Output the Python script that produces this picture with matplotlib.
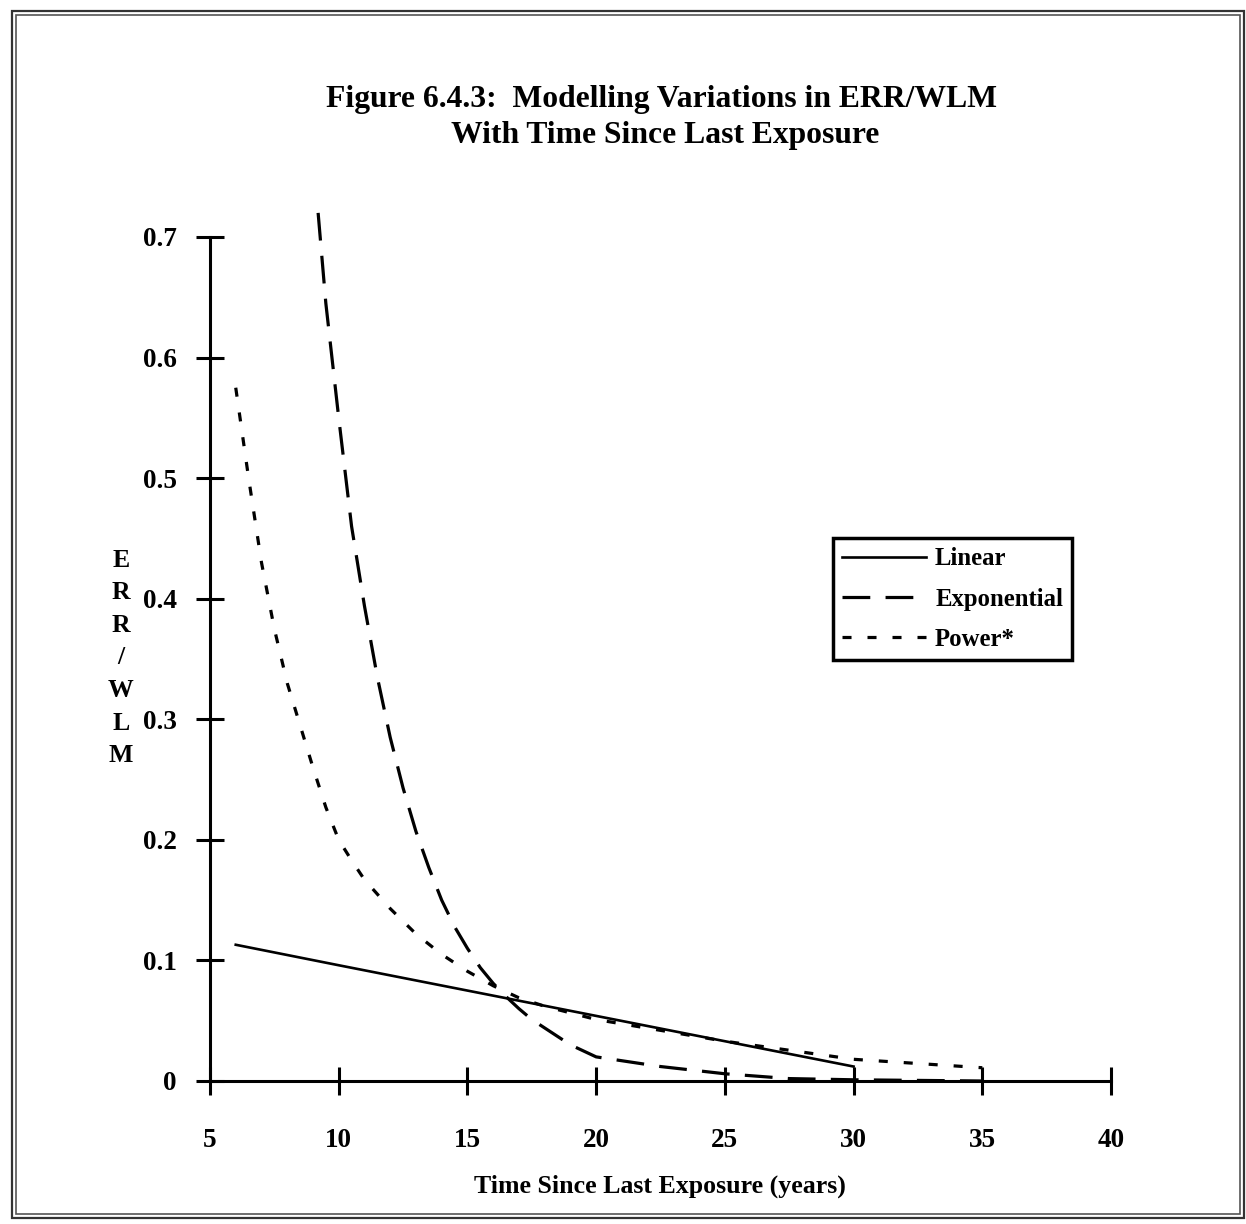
import numpy as np
import matplotlib.pyplot as plt
from matplotlib.patches import Rectangle

plt.rcParams['font.family'] = ['Liberation Serif', 'DejaVu Serif']
plt.rcParams['font.weight'] = 'bold'
plt.rcParams['lines.scale_dashes'] = False

# values
linear_x = [6, 10, 15, 20, 25, 30]
linear_y = [0.113, 0.096, 0.075, 0.054, 0.033, 0.012]

exp_x = [9.2, 9.5, 10, 10.5, 11, 11.5, 12, 12.5, 13, 13.5, 14, 14.5, 15, 15.5, 16, 16.5,
         17, 17.5, 18, 19, 20, 22.5, 25, 27.5, 30, 35]
exp_y = [0.72, 0.645, 0.55, 0.46, 0.394, 0.335, 0.285, 0.243, 0.207, 0.177, 0.15, 0.128,
         0.11, 0.094, 0.081, 0.07, 0.06, 0.051, 0.044, 0.03, 0.02, 0.012, 0.006, 0.002, 0.001, 0.0]

pow_x = [6, 6.5, 7, 7.5, 8, 8.5, 9, 9.5, 10, 10.5, 11, 12, 13, 14, 15, 16, 17, 18, 20, 25, 30, 35]
pow_y = [0.575, 0.5, 0.43, 0.375, 0.33, 0.295, 0.26, 0.227, 0.2, 0.183, 0.167, 0.143, 0.122,
         0.105, 0.091, 0.079, 0.069, 0.062, 0.051, 0.033, 0.018, 0.011]

x_ticks = [5, 10, 15, 20, 25, 30, 35, 40]
y_ticks = [0, 0.1, 0.2, 0.3, 0.4, 0.5, 0.6, 0.7]
y_labels = ['0', '0.1', '0.2', '0.3', '0.4', '0.5', '0.6', '0.7']

W, H = 1246, 1224
fig = plt.figure(figsize=(W / 100, H / 100), dpi=100)

# double frame round the page
fig.patches.append(Rectangle((12 / W, 1 - 1218 / H), (1244 - 12) / W, (1218 - 11) / H,
                             transform=fig.transFigure, fill=False, lw=1.6, ec='#333333'))
fig.patches.append(Rectangle((16 / W, 1 - 1214 / H), (1240 - 16) / W, (1214 - 15) / H,
                             transform=fig.transFigure, fill=False, lw=1.2, ec='#555555'))

ax = fig.add_axes([210 / W, 1 - 1081 / H, (1111 - 210) / W, (1081 - 237) / H])

ax.plot(linear_x, linear_y, color='black', lw=1.9, label='Linear', clip_on=False)
ax.plot(exp_x, exp_y, color='black', lw=2.3, dashes=(20, 11), label='Exponential', clip_on=False)
ax.plot(pow_x, pow_y, color='black', lw=2.3, dashes=(6.5, 11.5), label='Power*', clip_on=False)

ax.set_xlim(5, 40)
ax.set_ylim(0, 0.7)
ax.set_xticks(x_ticks)
ax.set_yticks(y_ticks)
ax.set_yticklabels(y_labels)
for s in ['top', 'right']:
    ax.spines[s].set_visible(False)
for s in ['left', 'bottom']:
    ax.spines[s].set_linewidth(2.2)
ax.tick_params(direction='inout', length=20, width=2.2, labelsize=19.5)
ax.tick_params(axis='x', pad=24)
ax.tick_params(axis='y', pad=14)

fig.text(661 / W, 1 - 100 / H, 'Figure 6.4.3:  Modelling Variations in ERR/WLM',
         ha='center', va='center', fontsize=22.8)
fig.text(665 / W, 1 - 135 / H, 'With Time Since Last Exposure',
         ha='center', va='center', fontsize=22.8)
fig.text(660 / W, 1 - 1186 / H, 'Time Since Last Exposure (years)',
         ha='center', va='center', fontsize=18.6)
fig.text(121 / W, 1 - 658 / H, 'E\nR\nR\n/\nW\nL\nM',
         ha='center', va='center', fontsize=18.5, linespacing=1.53)

leg = ax.legend(loc='upper left', bbox_to_anchor=(833 / W, 1 - 538 / H),
                bbox_transform=fig.transFigure, borderaxespad=0, fontsize=17.8,
                fancybox=False, framealpha=1, edgecolor='black',
                handlelength=3.4, handletextpad=0.35, labelspacing=0.7, borderpad=0.38)
leg.get_frame().set_linewidth(2.5)

fig.savefig('out.png', dpi=100)
